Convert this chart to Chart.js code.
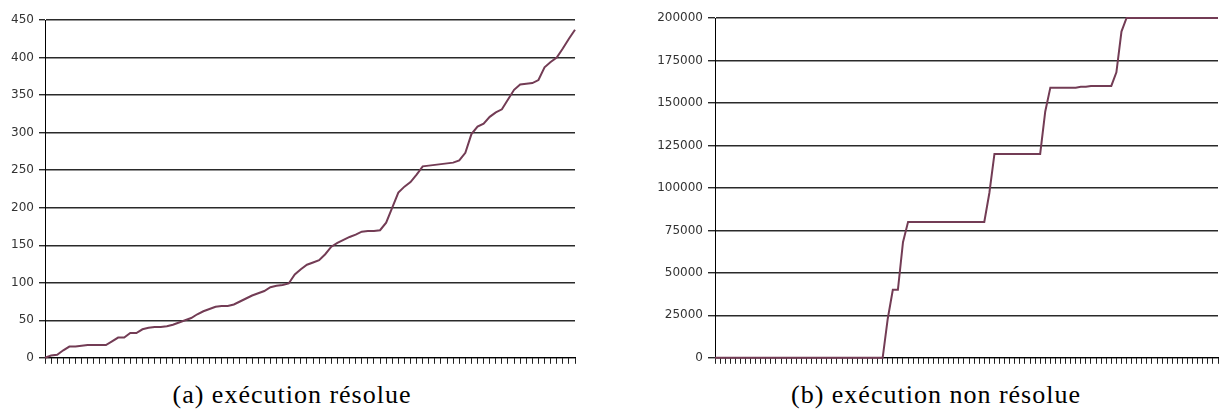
<!DOCTYPE html>
<html>
<head>
<meta charset="utf-8">
<title>exécution</title>
<script src="https://cdn.jsdelivr.net/npm/chart.js@4/dist/chart.umd.min.js"></script>
<style>
body{margin:0;background:#fff;width:1221px;height:412px;overflow:hidden;position:relative;}
.box{position:absolute;top:0;}
.caption{position:absolute;top:382px;font-family:"Liberation Serif",serif;font-size:26px;line-height:26px;letter-spacing:1px;color:#000;white-space:nowrap;transform:translateX(-50%);}
</style>
</head>
<body>
<div class="box" style="left:0;width:580px;height:370px;"><canvas id="chartA"></canvas></div>
<div class="box" style="left:620px;width:601px;height:370px;"><canvas id="chartB"></canvas></div>
<div class="caption" style="left:292px;">(a) exécution résolue</div>
<div class="caption" style="left:936px;">(b) exécution non résolue</div>
<script>
//solved run: 88 steps
var solvedSteps=[];
for(var i=1;i<=88;i++){ solvedSteps.push(String(i)); }
var solvedValues=[0,3,4,10,15,15,16,17,17,17,
	17,22,27,27,33,33,38,40,41,41,
	42,44,47,50,53,58,62,65,68,69,
	69,71,75,79,83,86,89,94,96,97,
	99,111,118,124,127,130,138,148,153,157,
	161,164,168,169,169,170,180,200,220,228,
	234,244,255,256,257,258,259,260,263,273,
	298,308,312,321,327,331,344,357,364,365,
	366,370,387,394,400,412,425,437];
var solvedTicks=[0,50,100,150,200,250,300,350,400,450];

//unsolved run: 100 steps
var unsolvedSteps=[];
for(var j=1;j<=100;j++){ unsolvedSteps.push(String(j)); }
var unsolvedValues=[0,0,0,0,0,0,0,0,0,0,
	0,0,0,0,0,0,0,0,0,0,
	0,0,0,0,0,0,0,0,0,0,
	0,0,0,0,23000,40000,40000,68000,80000,80000,
	80000,80000,80000,80000,80000,80000,80000,80000,80000,80000,
	80000,80000,80000,80000,97000,120000,120000,120000,120000,120000,
	120000,120000,120000,120000,120000,145000,159000,159000,159000,159000,
	159000,159000,159500,159500,160000,160000,160000,160000,160000,168000,
	192000,200000,200000,200000,200000,200000,200000,200000,200000,200000,
	200000,200000,200000,200000,200000,200000,200000,200000,200000,200000];
var unsolvedTicks=[0,25000,50000,75000,100000,125000,150000,175000,200000];

var lineColor='#733c55';

function makeChart(id, labels, values, ticks, axisWidth, tickLen, padRight, padTop){
	var ctx=document.getElementById(id);
	return new Chart(ctx, {
		type:'line',
		data:{
			labels:labels,
			datasets:[{
				data:values,
				borderColor:lineColor,
				borderWidth:2,
				pointRadius:0,
				tension:0,
				fill:false,
				clip:4
			}]
		},
		options:{
			responsive:true,
			maintainAspectRatio:false,
			animation:false,
			events:[],
			layout:{padding:{top:padTop, right:padRight, left:0, bottom:0}},
			plugins:{legend:{display:false}, tooltip:{enabled:false}},
			scales:{
				x:{
					offset:false,
					border:{display:true, color:'#000', width:1},
					grid:{drawOnChartArea:false, drawTicks:true, tickLength:6, color:'#222'},
					ticks:{display:false, autoSkip:false},
					afterFit:function(s){ s.height=12; }
				},
				y:{
					min:0,
					max:ticks[ticks.length-1],
					border:{display:true, color:'#000', width:1},
					grid:{color:'#2a2a2a', lineWidth:1.4, drawTicks:true, tickLength:tickLen},
					afterBuildTicks:function(s){
						s.ticks=ticks.map(function(v){ return {value:v}; });
					},
					ticks:{
						padding:5,
						color:'#333',
						font:{family:'DejaVu Sans', size:12},
						callback:function(v){ return String(v); }
					},
					afterFit:function(s){ s.width=axisWidth; }
				}
			}
		}
	});
}

makeChart('chartA', solvedSteps, solvedValues, solvedTicks, 45, 6, 5, 20);
makeChart('chartB', unsolvedSteps, unsolvedValues, unsolvedTicks, 95, 7, 3, 18);
</script>
</body>
</html>
